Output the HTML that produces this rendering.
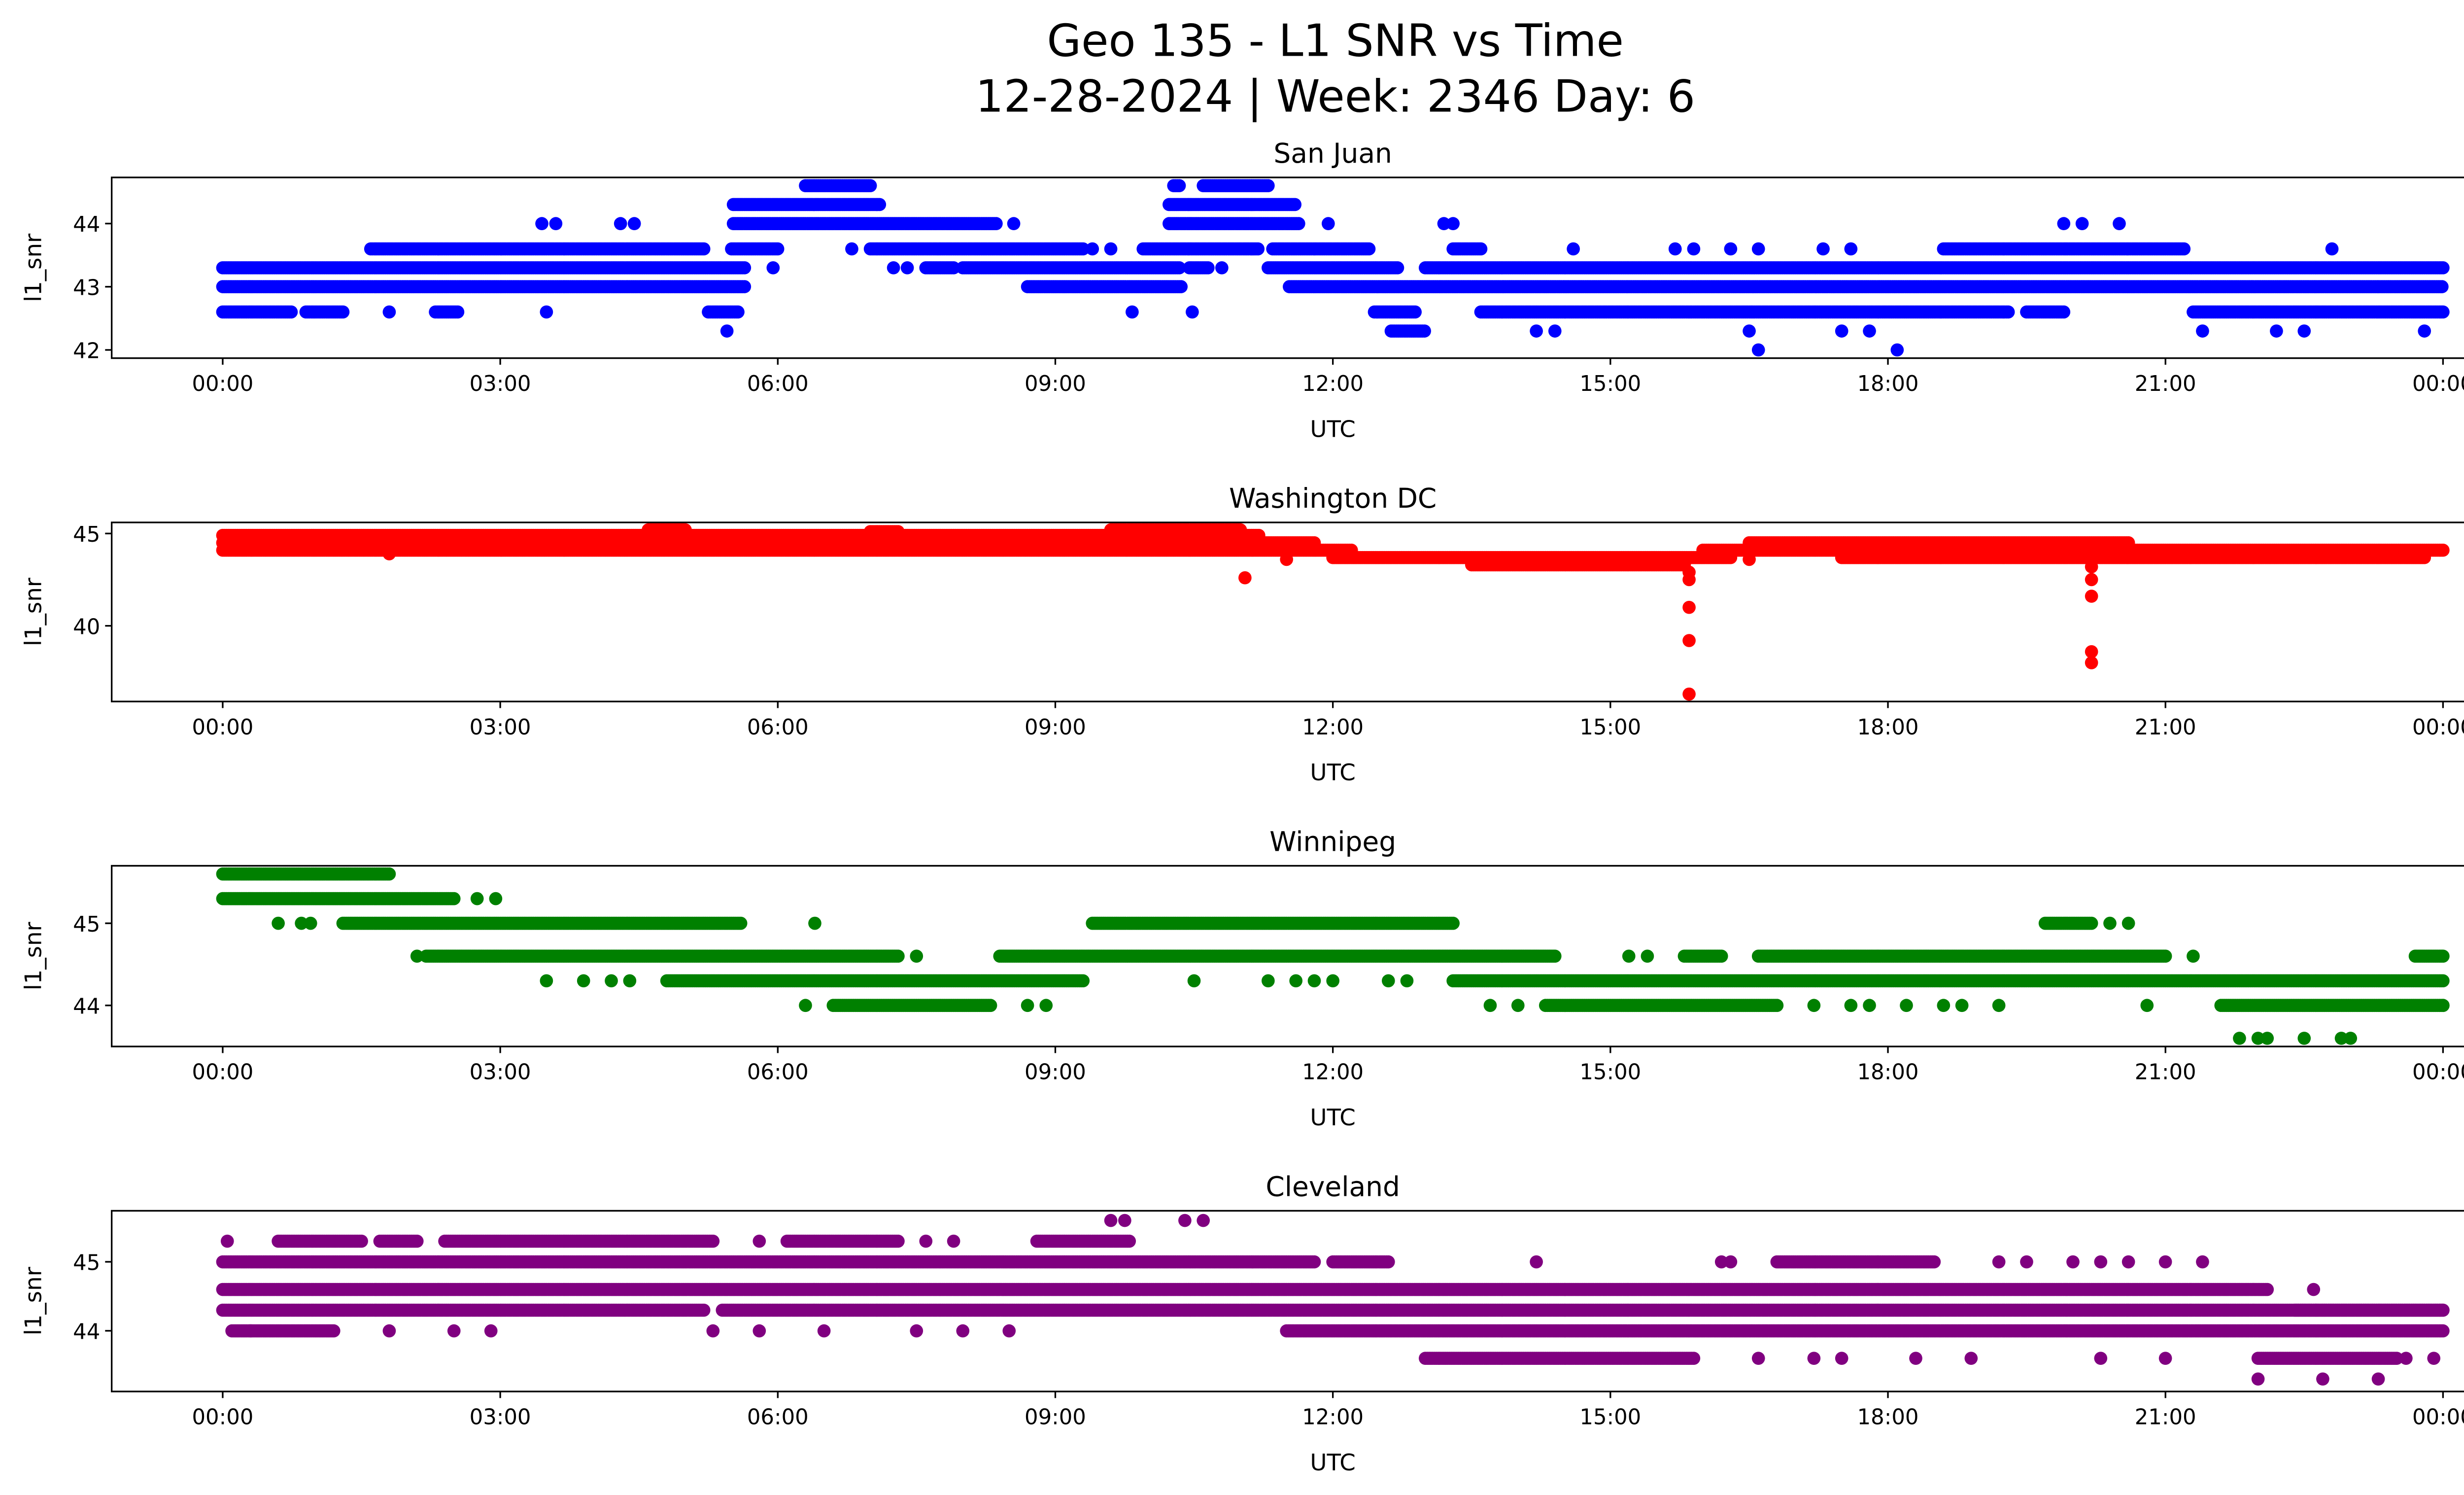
<!DOCTYPE html>
<html><head><meta charset="utf-8"><style>
html,body{margin:0;padding:0;background:#fff;overflow:hidden;}
svg{display:block;font-family:"DejaVu Sans","Liberation Sans",sans-serif;}
</style></head><body>
<svg id="fig" width="5226" height="3033" viewBox="0 0 1568 910" xmlns="http://www.w3.org/2000/svg">
<rect width="1568" height="910" fill="#fff"/>
<text x="813" y="34" font-size="27" text-anchor="middle">Geo 135 - L1 SNR vs Time</text>
<text x="813" y="68" font-size="27" text-anchor="middle">12-28-2024 | Week: 2346 Day: 6</text>
<g id="plots"></g>
</svg>
<script>
// ---- data (hours UTC, SNR) ----
const xTickLabels = ["00:00","03:00","06:00","09:00","12:00","15:00","18:00","21:00","00:00"];
const xTickHours = [0,3,6,9,12,15,18,21,24];
const panelTitles = ["San Juan","Washington DC","Winnipeg","Cleveland"];
const panelColors = ["#0000ff","#ff0000","#008000","#800080"];
const yTicks0 = [42,43,44], yTicks1 = [40,45], yTicks2 = [44,45], yTicks3 = [44,45];
const yRange0 = [41.87,44.73], yRange1 = [35.9,45.6], yRange2 = [43.5,45.7], yRange3 = [43.12,45.74];
// runs: [startHour, endHour, snr]
const runs0 = [[0,5.65,43.3],[7.6,7.9,43.3],[8.0,10.35,43.3],[10.45,10.65,43.3],[11.3,12.7,43.3],[13.0,24,43.3],
 [0,5.65,43.0],[8.7,10.36,43.0],[11.53,24,43.0],
 [0,0.75,42.6],[0.9,1.3,42.6],[2.3,2.55,42.6],[5.25,5.57,42.6],[12.45,12.9,42.6],[13.6,19.3,42.6],[19.5,19.9,42.6],[21.3,24,42.6],
 [1.6,5.2,43.6],[5.5,6.0,43.6],[7.0,9.3,43.6],[9.95,11.2,43.6],[11.35,12.4,43.6],[13.3,13.6,43.6],[18.6,21.2,43.6],
 [5.52,8.37,44.0],[10.23,11.64,44.0],[5.52,7.1,44.3],[10.23,11.6,44.3],[6.3,7.0,44.6],[10.28,10.34,44.6],[10.6,11.3,44.6],[12.63,13.0,42.3]];
const pts0 = [[5.45,42.3],[3.45,44],[3.6,44],[4.3,44],[4.45,44],[8.55,44],[11.95,44],[13.2,44],[13.3,44],[19.9,44],[20.1,44],[20.5,44],
 [5.95,43.3],[6.8,43.6],[9.4,43.6],[9.6,43.6],[7.25,43.3],[7.4,43.3],[10.8,43.3],
 [16.5,42.3],[16.6,42],[17.5,42.3],[17.8,42.3],[18.1,42],[14.2,42.3],[14.4,42.3],[21.4,42.3],[22.2,42.3],[22.5,42.3],[23.8,42.3],
 [22.8,43.6],[9.83,42.6],[10.48,42.6],[1.8,42.6],[14.6,43.6],[15.7,43.6],[15.9,43.6],[16.3,43.6],[16.6,43.6],[17.3,43.6],[17.6,43.6],[3.5,42.6]];
const runs1 = [[0,11.8,44.5],[0,11.2,44.9],[4.6,5.0,45.2],[7.0,7.3,45.1],[9.6,11.0,45.2],[0,12.2,44.1],[12.0,16.3,43.7],[13.5,15.8,43.3],
 [16.0,24,44.1],[16.5,20.6,44.5],[17.5,23.8,43.7]];
const pts1 = [[11.05,42.6],[15.85,42.5],[15.85,42.9],[15.85,41.0],[15.85,39.2],[15.85,36.3],[20.2,43.2],[20.2,42.5],[20.2,41.6],[20.2,38.6],[20.2,38.0],[11.5,43.6],[16.5,43.6],[1.8,43.9]];
const runs2 = [[0,1.8,45.6],[0,2.5,45.3],[1.3,5.6,45.0],[9.4,13.3,45.0],[19.7,20.2,45.0],
 [2.2,7.3,44.6],[8.4,14.4,44.6],[15.8,16.2,44.6],[16.6,21.0,44.6],[23.7,24,44.6],
 [4.8,9.3,44.3],[13.3,24,44.3],[6.6,8.3,44.0],[14.3,16.8,44.0],[21.6,24,44.0]];
const pts2 = [[2.75,45.3],[2.95,45.3],[0.6,45],[0.85,45],[0.95,45],[6.4,45],[20.4,45],[20.6,45],[2.1,44.6],[7.5,44.6],[15.2,44.6],[15.4,44.6],[21.3,44.6],
 [3.5,44.3],[3.9,44.3],[4.2,44.3],[4.4,44.3],[10.5,44.3],[11.3,44.3],[11.6,44.3],[11.8,44.3],[12.0,44.3],[12.6,44.3],[12.8,44.3],
 [6.3,44],[8.7,44],[8.9,44],[13.7,44],[14.0,44],[17.2,44],[17.6,44],[17.8,44],[18.2,44],[18.6,44],[18.8,44],[19.2,44],[20.8,44],[24,44],
 [21.8,43.6],[22.0,43.6],[22.1,43.6],[22.5,43.6],[22.9,43.6],[23.0,43.6]];
const runs3 = [[0,11.8,45.0],[0,22.1,44.6],[0,5.2,44.3],[5.4,24,44.3],[11.5,24,44.0],[0.1,1.2,44.0],[13.0,15.9,43.6],[22.0,23.5,43.6],
 [0.6,1.5,45.3],[1.7,2.1,45.3],[2.4,5.3,45.3],[6.1,7.3,45.3],[8.8,9.8,45.3],[12.0,12.6,45.0],[22.4,24,44.3],[16.8,18.5,45.0]];
const pts3 = [[0.05,45.3],[9.6,45.6],[9.75,45.6],[10.4,45.6],[10.6,45.6],[14.2,45],[16.2,45],[16.3,45],[19.2,45],[19.5,45],[20.0,45],[20.3,45],[20.6,45],[21.0,45],[21.4,45],
 [7.6,45.3],[7.9,45.3],[5.8,45.3],[22.6,44.6],[0.3,44],[1.8,44],[2.5,44],[2.9,44],[5.3,44],[5.8,44],[6.5,44],[7.5,44],[8.0,44],[8.5,44],
 [16.6,43.6],[17.2,43.6],[17.5,43.6],[18.3,43.6],[18.9,43.6],[20.3,43.6],[21.0,43.6],[23.6,43.6],[23.9,43.6],[22.0,43.3],[22.7,43.3],[23.3,43.3]];

const panels = [
 {top:108,bottom:218,runs:runs0,pts:pts0,ticks:yTicks0,range:yRange0},
 {top:318,bottom:427,runs:runs1,pts:pts1,ticks:yTicks1,range:yRange1},
 {top:527,bottom:637,runs:runs2,pts:pts2,ticks:yTicks2,range:yRange2},
 {top:737,bottom:847,runs:runs3,pts:pts3,ticks:yTicks3,range:yRange3}];
const L=68,R=1555;
const NS="http://www.w3.org/2000/svg";
function xs(h){return L+(h+1.2)/26.4*(R-L);}
function mk(tag,attrs,parent){const e=document.createElementNS(NS,tag);for(const k in attrs)e.setAttribute(k,attrs[k]);parent.appendChild(e);return e;}
const root=document.getElementById('plots');
panels.forEach((p,i)=>{
 const ys=v=>p.bottom-(v-p.range[0])/(p.range[1]-p.range[0])*(p.bottom-p.top);
 const g=mk('g',{},root);
 
 
 const clip=mk('clipPath',{id:'c'+i},g);mk('rect',{x:L,y:p.top,width:R-L,height:p.bottom-p.top},clip);
 const dots=mk('g',{'clip-path':'url(#c'+i+')',fill:panelColors[i]},g);
 
 
 p.runs.forEach(r=>{for(let h=r[0];h<=r[1]+1e-9;h+=0.02){mk('circle',{cx:xs(h).toFixed(1),cy:ys(r[2]).toFixed(1),r:4},dots);}});
 p.pts.forEach(q=>{const c=mk('circle',{cx:xs(q[0]).toFixed(1),cy:ys(q[1]).toFixed(1),r:4},dots);
  });
 const fr=mk('rect',{x:L,y:p.top,width:R-L,height:p.bottom-p.top,fill:'none',stroke:'#000','stroke-width':1},g);
 
 
 xTickHours.forEach((h,k)=>{const x=xs(h);mk('line',{x1:x,x2:x,y1:p.bottom,y2:p.bottom+4,stroke:'#000'},g);
  const t=mk('text',{x:x,y:p.bottom+20,'font-size':13,'text-anchor':'middle'},g);t.textContent=xTickLabels[k];
  });
 p.ticks.forEach(v=>{const y=ys(v);mk('line',{x1:L-4,x2:L,y1:y,y2:y,stroke:'#000'},g);
  const t=mk('text',{x:L-7,y:y+5,'font-size':13,'text-anchor':'end'},g);t.textContent=v;
  });
 const tt=mk('text',{x:(L+R)/2,y:p.top-9,'font-size':16.5,'text-anchor':'middle'},g);tt.textContent=panelTitles[i];
 
 const xl=mk('text',{x:(L+R)/2,y:p.bottom+48,'font-size':14,'text-anchor':'middle'},g);xl.textContent='UTC';
 
 const cy=(p.top+p.bottom)/2;
 const yl=mk('text',{x:25,y:cy,'font-size':14,'text-anchor':'middle',transform:'rotate(-90 25 '+cy+')'},g);yl.textContent='l1_snr';
 
});
</script>
</body></html>
